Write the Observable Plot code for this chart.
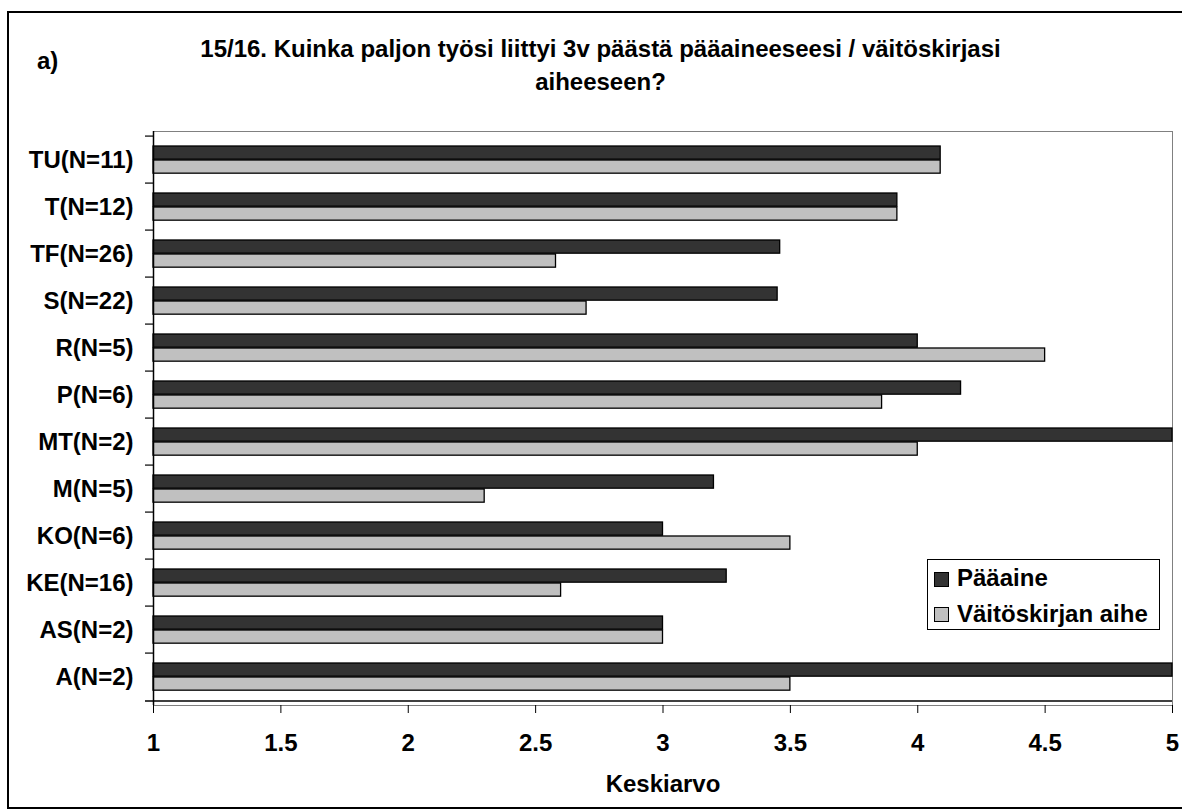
<!DOCTYPE html>
<html>
<head>
<meta charset="utf-8">
<script src="https://cdn.jsdelivr.net/npm/d3@7"></script>
<script src="https://cdn.jsdelivr.net/npm/@observablehq/plot@0.6"></script>
<style>
  html, body { margin: 0; padding: 0; background: #fff; }
  #wrap { position: relative; width: 1182px; height: 811px; overflow: hidden; background: #fff;
          font-family: "Liberation Sans", Arial, Helvetica, sans-serif; font-weight: bold; color: #000; }
  #border { position: absolute; left: 7px; top: 11px; width: 1220px; height: 798px; border: 2px solid #000; box-sizing: border-box; }
  .t { position: absolute; font-size: 24px; line-height: 33px; white-space: nowrap; }
  #title { left: 100px; width: 1001px; top: 32px; text-align: center; }
  #panel { left: 37px; top: 43.5px; }
  #chart { position: absolute; left: 0; top: 100px; }
  #legend { position: absolute; left: 927px; top: 559px; width: 233px; height: 71px; border: 1px solid #000; box-sizing: border-box; background: #fff; }
  .sw { position: absolute; width: 15px; height: 15px; border: 1px solid #000; box-sizing: border-box; }
</style>
</head>
<body>
<div id="wrap">
  <div id="border"></div>
  <div class="t" id="panel">a)</div>
  <div class="t" id="title">15/16. Kuinka paljon työsi liittyi 3v päästä pääaineeseesi / väitöskirjasi<br>aiheeseen?</div>
  <div id="chart"></div>
  <div id="legend"></div>
</div>
<script>
// ---- data ----
const categories = ["TU(N=11)", "T(N=12)", "TF(N=26)", "S(N=22)", "R(N=5)", "P(N=6)", "MT(N=2)", "M(N=5)", "KO(N=6)", "KE(N=16)", "AS(N=2)", "A(N=2)"];
const seriesNames = ["Pääaine", "Väitöskirjan aihe"];
const paaaine = [4.09, 3.92, 3.46, 3.45, 4.0, 4.17, 5.0, 3.2, 3.0, 3.25, 3.0, 5.0];
const vaitoskirja = [4.09, 3.92, 2.58, 2.70, 4.5, 3.86, 4.0, 2.3, 3.5, 2.6, 3.0, 3.5];
const seriesColors = ["#333333", "#c0c0c0"];
const xTicks = [1, 1.5, 2, 2.5, 3, 3.5, 4, 4.5, 5];
const xLabel = "Keskiarvo";

// ---- layout ----
const W = 1182, H = 711;
const mt = 31, mb = 106, ml = 153, mr = 10;
const bw = (H - mt - mb) / categories.length;

const rows = categories.map((c, i) => ({cat: c, p: paaaine[i], v: vaitoskirja[i]}));

const chart = Plot.plot({
  width: W,
  height: H,
  marginTop: mt,
  marginBottom: mb,
  marginLeft: ml,
  marginRight: mr,
  style: {fontFamily: "Liberation Sans, Arial, sans-serif", fontSize: "24px", fontWeight: "bold", color: "#000", background: "transparent", overflow: "visible"},
  x: {domain: [1, 5]},
  y: {domain: categories, padding: 0},
  marks: [
    Plot.frame({stroke: "#808080"}),
    Plot.barX(rows, {y: "cat", x1: 1, x2: "p", fill: seriesColors[0], stroke: "#000", strokeWidth: 1.3, insetTop: 10, insetBottom: bw - 24}),
    Plot.barX(rows, {y: "cat", x1: 1, x2: "v", fill: seriesColors[1], stroke: "#000", strokeWidth: 1.3, insetTop: 24, insetBottom: bw - 38}),
    Plot.ruleX([1], {stroke: "#000", strokeWidth: 1.5}),
    Plot.ruleY(categories, {y: d => d, x1: 1, x2: 1, insetLeft: -8, dy: -bw / 2, stroke: "#000", strokeWidth: 1.2}),
    Plot.ruleY([categories[categories.length - 1]], {y: d => d, x1: 1, x2: 5, insetLeft: -8, dy: bw / 2, stroke: "#000", strokeWidth: 1.5}),
    Plot.axisX({ticks: xTicks, tickSize: 8, tickPadding: 20, tickFormat: d => String(d), label: null, stroke: "#000", fontSize: 24}),
    Plot.axisY({tickSize: 0, tickPadding: 20, label: null, fontSize: 24}),
    Plot.text([xLabel], {text: d => d, frameAnchor: "bottom", lineAnchor: "middle", dy: 79, fontSize: 24, fontWeight: "bold", fill: "#000"})
  ]
});
document.getElementById("chart").appendChild(chart);

// ---- legend (HTML overlay) ----
const legend = document.getElementById("legend");
seriesNames.forEach((name, i) => {
  const sw = document.createElement("div");
  sw.className = "sw";
  sw.style.left = "6px";
  sw.style.top = (12 + i * 35) + "px";
  sw.style.background = seriesColors[i];
  legend.appendChild(sw);
  const tx = document.createElement("div");
  tx.className = "t";
  tx.style.left = "29px";
  tx.style.top = (1.2 + i * 35.7) + "px";
  tx.textContent = name;
  legend.appendChild(tx);
});
</script>
</body>
</html>
